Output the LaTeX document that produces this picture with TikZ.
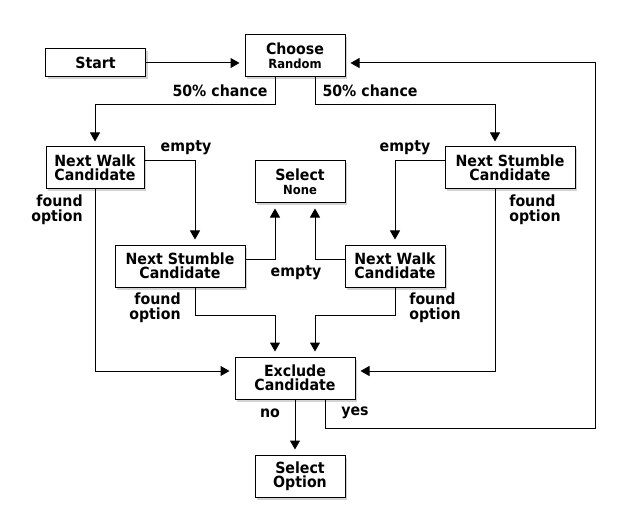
\documentclass[tikz,border=0pt]{standalone}
\usepackage{fontspec}
\setmainfont{DejaVu Sans}[FakeStretch=0.92]
\usetikzlibrary{arrows.meta,shadows}
\tikzset{
  box/.style={draw, line width=1bp, fill=white, inner sep=0pt, align=center,
    font=\bfseries\fontsize{15.4bp}{14bp}\selectfont,
    drop shadow={shadow xshift=2bp, shadow yshift=-2.5bp, opacity=0.35}},
  lbl/.style={inner sep=0pt, font=\bfseries\fontsize{15.4bp}{14.5bp}\selectfont},
  arr/.style={line width=1bp, -{Triangle[length=9bp,width=10bp]}, shorten >=5bp},
  wire/.style={line width=1bp}
}
\newcommand{\smalltxt}[1]{{\fontsize{12.6bp}{12bp}\selectfont #1}}
\begin{document}
\begin{tikzpicture}[x=1bp,y=-1bp]
\useasboundingbox (0,0) rectangle (620,532);
% boxes
\node[box, minimum width=100bp, minimum height=28bp] (start) at (95.5,63) {Start};
\node[box, minimum width=100bp, minimum height=42bp] (choose) at (295,56) {Choose\\\smalltxt{Random}};
\node[box, minimum width=98bp, minimum height=42bp] (walkL) at (95,168) {Next Walk\\Candidate};
\node[box, minimum width=130bp, minimum height=42bp] (stumR) at (510,168) {Next Stumble\\Candidate};
\node[box, minimum width=90bp, minimum height=42bp] (selN) at (300,182) {Select\\\smalltxt{None}};
\node[box, minimum width=130bp, minimum height=42bp] (stumM) at (180,266) {Next Stumble\\Candidate};
\node[box, minimum width=100bp, minimum height=42bp] (walkM) at (395,266) {Next Walk\\Candidate};
\node[box, minimum width=120bp, minimum height=42bp] (excl) at (295,378) {Exclude\\Candidate};
\node[box, minimum width=90bp, minimum height=42bp] (selO) at (300,476) {Select\\Option};
% corner points
\coordinate (splitL) at (95,105);
\coordinate (splitR) at (495,105);
\coordinate (mergeL) at (275,315);
\coordinate (mergeR) at (315,315);
\coordinate (loopR) at (595,428);
% connectors
\draw[arr] (start.east) -- (start.east -| choose.west);
\draw[arr] ([xshift=-20bp]choose.south) |- (splitL) -- (walkL.north);
\draw[arr] ([xshift=20bp]choose.south) |- (splitR) -- (splitR |- stumR.north);
\draw[arr] ([yshift=7bp]walkL.east) -| ([xshift=15bp]stumM.north);
\draw[arr] ([yshift=7bp]stumR.west) -| (walkM.north);
\draw[arr] (walkL.south) |- ([yshift=7bp]excl.west);
\draw[arr] ([xshift=-15bp]stumR.south) |- ([yshift=7bp]excl.east);
\draw[arr] ([yshift=7bp]stumM.east) -| ([xshift=-25bp]selN.south);
\draw[arr] ([yshift=7bp]walkM.west) -| ([xshift=15bp]selN.south);
\draw[arr] ([xshift=15bp]stumM.south) |- (mergeL) -- (mergeL |- excl.north);
\draw[arr] (walkM.south) |- (mergeR) -- (mergeR |- excl.north);
\draw[arr] (excl.south) -- (excl.south |- selO.north);
\draw[arr] ([xshift=30bp]excl.south) |- (loopR) |- ([yshift=-7bp]choose.east);
% labels
\node[lbl] (chanceL) at (220,91) {50\% chance};
\node[lbl] (chanceR) at (370,91) {50\% chance};
\node[lbl] (emptyL) at (186,148) {empty};
\node[lbl] (emptyR) at (405,148) {empty};
\node[lbl] (emptyM) at (296,273) {empty};
\node[lbl, align=right] (foundA) at (57,210) {found\\option};
\node[lbl, align=left] (foundB) at (535,210) {found\\option};
\node[lbl, align=right] (foundC) at (155,308) {found\\option};
\node[lbl, align=left] (foundD) at (435,308) {found\\option};
\node[lbl] (no) at (270,413) {no};
\node[lbl] (yes) at (355,413) {yes};
\end{tikzpicture}
\end{document}
